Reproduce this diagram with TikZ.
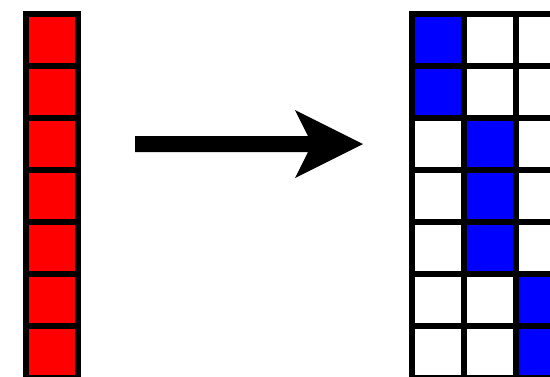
\documentclass[tikz,border=0pt]{standalone}
\begin{document}
\begin{tikzpicture}[x=1pt,y=-1pt,
  cell/.style={draw=black,line width=5.5pt,minimum size=52pt,inner sep=0pt,
               outer sep=0pt,anchor=north west},
  redcell/.style={cell,fill=red},
  bluecell/.style={cell,fill=blue},
  whitecell/.style={cell,fill=white}]
\useasboundingbox (0,0) rectangle (550,376);
\clip (0,0) rectangle (550,376);
% single red column
\foreach \r in {0,...,6}
  \node[redcell] (L\r) at (26,14+52*\r) {};
% one-hot grid: blue cell per row
\foreach \r/\c in {0/0,1/0,2/1,3/1,4/1,5/2,6/2} {
  \foreach \k in {0,...,3} {
    \ifnum\k=\c
      \node[bluecell] (R\r-\k) at (412+52*\k,14+52*\r) {};
    \else
      \node[whitecell] (R\r-\k) at (412+52*\k,14+52*\r) {};
    \fi
  }
}
% block arrow
\fill[black] (135,136) -- (308,136) -- (295,110) -- (363,144) -- (295,178)
  -- (308,152) -- (135,152) -- cycle;
\end{tikzpicture}
\end{document}
